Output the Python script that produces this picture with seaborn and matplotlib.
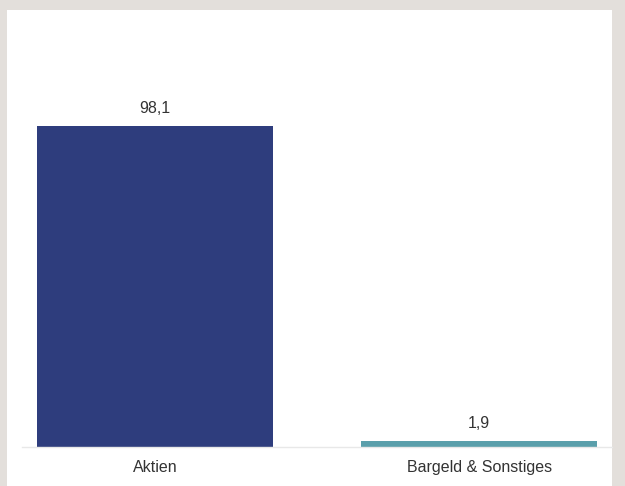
import pandas as pd
import matplotlib
matplotlib.use('Agg')
import matplotlib.pyplot as plt
import seaborn as sns
from matplotlib.patches import Rectangle

categories = ['Aktien', 'Bargeld & Sonstiges']
values = [98.1, 1.9]
value_labels = ['98,1', '1,9']
colors = ['#2e3d7d', '#5a9fab']

df = pd.DataFrame({'kategorie': categories, 'anteil': values})

sns.set_style('white')
plt.rcParams['font.family'] = ['Liberation Sans', 'DejaVu Sans']

fig = plt.figure(figsize=(6.25, 4.86), dpi=100)
fig.patch.set_facecolor('#e3dfdb')
# white card behind the chart
fig.patches.append(Rectangle((7 / 625, 0), 605 / 625, 476 / 486,
                             transform=fig.transFigure, facecolor='white',
                             edgecolor='none', zorder=-1))

ax = fig.add_axes([22 / 625, 39 / 486, 590 / 625, 437 / 486])
ax.set_facecolor('none')
ax.set_zorder(1)

sns.barplot(data=df, x='kategorie', y='anteil', hue='kategorie',
            palette=colors, width=0.727, saturation=1, legend=False, ax=ax,
            edgecolor='none', linewidth=0)

for bar, lab in zip(ax.patches, value_labels):
    ax.annotate(lab, (bar.get_x() + bar.get_width() / 2, bar.get_height()),
                xytext=(0, 9.4), textcoords='offset points',
                ha='center', va='baseline', fontsize=11.5, color='#333333')

ax.set_xlim(-0.41, 1.41)
ax.set_ylim(0, 133.6)
ax.set_xlabel('')
ax.set_ylabel('')
ax.set_yticks([])
ax.tick_params(axis='x', length=0, pad=9, labelsize=11.5, labelcolor='#333333')
for side in ['top', 'right', 'left']:
    ax.spines[side].set_visible(False)
ax.spines['bottom'].set_color('#e8e8e8')
ax.spines['bottom'].set_linewidth(1)

fig.savefig('out.png', dpi=100, facecolor=fig.get_facecolor())
